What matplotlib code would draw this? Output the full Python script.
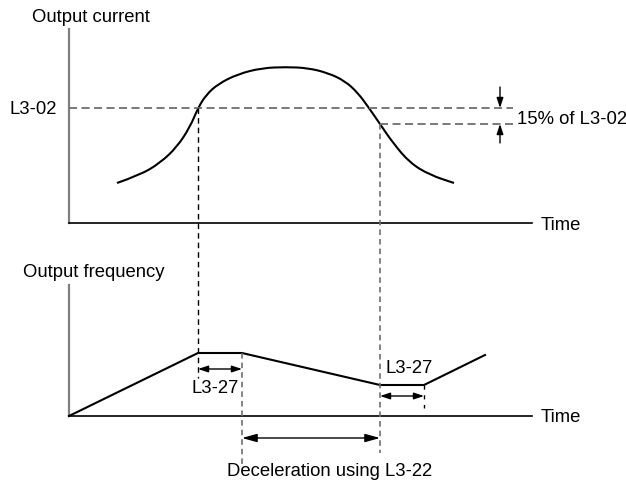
import matplotlib

matplotlib.use('Agg')
import numpy as np
import matplotlib.pyplot as plt
from matplotlib.path import Path
from matplotlib.patches import PathPatch

plt.rcParams['font.family'] = ['Liberation Sans', 'DejaVu Sans']
plt.rcParams['lines.scale_dashes'] = False

# Output current curve (pixel coords)
cur_x = [117, 140, 160, 177, 190, 198, 206, 218, 238, 262, 286, 308, 328, 345, 358, 369, 380, 393, 410, 430, 454]
cur_y = [183, 175, 163, 147, 127, 108, 95, 84, 74, 68, 67, 68, 73, 81, 93, 108, 124, 143, 163, 175, 183]

# Output frequency profile
frq_x = [69, 198, 242, 380, 424, 485]
frq_y = [416, 353, 353, 385, 385, 355]

# Levels and time marks
lvl_l302 = 108
lvl_15 = 124
t_stall = 198
t_dec_start = 242
t_dec_end = 380
t_reaccel = 424

fig = plt.figure(figsize=(6.26, 4.82), dpi=100)
ax = fig.add_axes([0, 0, 1, 1])
ax.set_xlim(0, 626)
ax.set_ylim(482, 0)
ax.axis('off')

gray = '#6e6e6e'
fs = 13.3

# Axes of both panels
ax.plot([69, 69], [29, 223], color='#808080', lw=1.6)
ax.plot([69, 532], [223, 223], color='black', lw=1.2)
ax.plot([69, 69], [285, 416], color='#808080', lw=1.6)
ax.plot([69, 532], [416, 416], color='black', lw=1.2)

# Current curve drawn as a smooth path through the read points
pts = np.column_stack([cur_x, cur_y]).astype(float)
verts = [pts[0]]
codes = [Path.MOVETO]
for i in range(1, len(pts) - 1):
    verts += [pts[i], (pts[i] + pts[i + 1]) / 2]
    codes += [Path.CURVE3, Path.CURVE3]
verts.append(pts[-1])
codes.append(Path.LINETO)
ax.add_patch(PathPatch(Path(verts, codes), facecolor='none', edgecolor='black', lw=1.5))

ax.plot(frq_x, frq_y, color='black', lw=1.5)

# Horizontal dashed levels
ax.plot([69, 513], [lvl_l302, lvl_l302], color=gray, lw=1.3, dashes=(5.8, 3.2))
ax.plot([t_dec_end, 513], [lvl_15, lvl_15], color=gray, lw=1.3, dashes=(5.8, 3.2))

# Vertical dashed guides
ax.plot([t_stall, t_stall], [lvl_l302, 378], color='black', lw=1.0, dashes=(4.0, 2.9))
ax.plot([t_dec_start, t_dec_start], [353, 466], color=gray, lw=1.2, dashes=(4.0, 2.9))
ax.plot([t_dec_end, t_dec_end], [lvl_15, 453], color=gray, lw=1.2, dashes=(4.0, 2.9))
ax.plot([t_reaccel, t_reaccel], [385, 408], color='black', lw=1.0, dashes=(3.0, 4.0))

# Arrows
ahead = dict(color='black', lw=1.0, shrinkA=0, shrinkB=0, mutation_scale=10)
ax.annotate('', xy=(500, lvl_l302), xytext=(500, 87),
            arrowprops=dict(arrowstyle='-|>,head_length=0.6,head_width=0.2', **ahead))
ax.annotate('', xy=(500, lvl_15), xytext=(500, 143),
            arrowprops=dict(arrowstyle='-|>,head_length=0.6,head_width=0.2', **ahead))
ax.annotate('', xy=(t_stall, 369), xytext=(t_dec_start, 369),
            arrowprops=dict(arrowstyle='<|-|>,head_length=0.6,head_width=0.2', **ahead))
ax.annotate('', xy=(t_dec_end, 396), xytext=(t_reaccel, 396),
            arrowprops=dict(arrowstyle='<|-|>,head_length=0.6,head_width=0.2', **ahead))
ax.annotate('', xy=(t_dec_start, 438), xytext=(t_dec_end, 438),
            arrowprops=dict(arrowstyle='<|-|>,head_length=0.9,head_width=0.25', **ahead))

# Labels
ax.text(32, 21.5, 'Output current', fontsize=fs, va='baseline', ha='left')
ax.text(57, 114, 'L3-02', fontsize=fs, va='baseline', ha='right')
ax.text(517, 124, '15% of L3-02', fontsize=fs, va='baseline', ha='left')
ax.text(541, 230, 'Time', fontsize=fs, va='baseline', ha='left')
ax.text(23, 277, 'Output frequency', fontsize=fs, va='baseline', ha='left')
ax.text(215, 393, 'L3-27', fontsize=fs, va='baseline', ha='center')
ax.text(409, 373, 'L3-27', fontsize=fs, va='baseline', ha='center')
ax.text(541, 422, 'Time', fontsize=fs, va='baseline', ha='left')
ax.text(330, 476, 'Deceleration using L3-22', fontsize=fs, va='baseline', ha='center')

fig.savefig('out.png', dpi=100)
